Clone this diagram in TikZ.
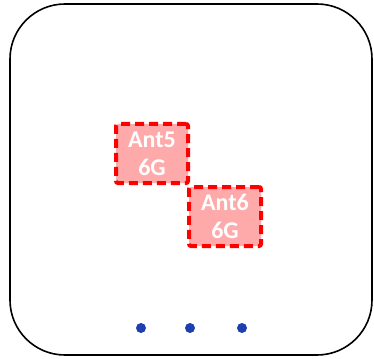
\documentclass[tikz,border=0pt]{standalone}
\usepackage{fontspec}
\setmainfont{Carlito}
\definecolor{dotblue}{RGB}{30,64,175}
\definecolor{antfill}{RGB}{255,170,170}
\begin{document}
\begin{tikzpicture}[x=1pt,y=-1pt,
  ant/.style={draw=red, fill=antfill, line width=4pt, dash pattern=on 9pt off 5pt, rounded corners=2pt,
    minimum width=72pt, minimum height=59pt, inner sep=0pt, text=white, font=\bfseries\fontsize{24}{28}\selectfont, align=center, anchor=north west},
  dot/.style={circle, fill=dotblue, draw=none, minimum size=10pt, inner sep=0pt}]
\useasboundingbox (0,0) rectangle (374,358);
\draw[line width=1.6pt, rounded corners=55pt] (10,4) rectangle (372,355);
\node[ant] (a5) at (114,122) {Ant5\\6G};
\node[ant] (a6) at (187,185) {Ant6\\6G};
\node[dot] (d1) at (141,328) {};
\node[dot] (d2) at (190,328) {};
\node[dot] (d3) at (242,328) {};
\end{tikzpicture}
\end{document}
